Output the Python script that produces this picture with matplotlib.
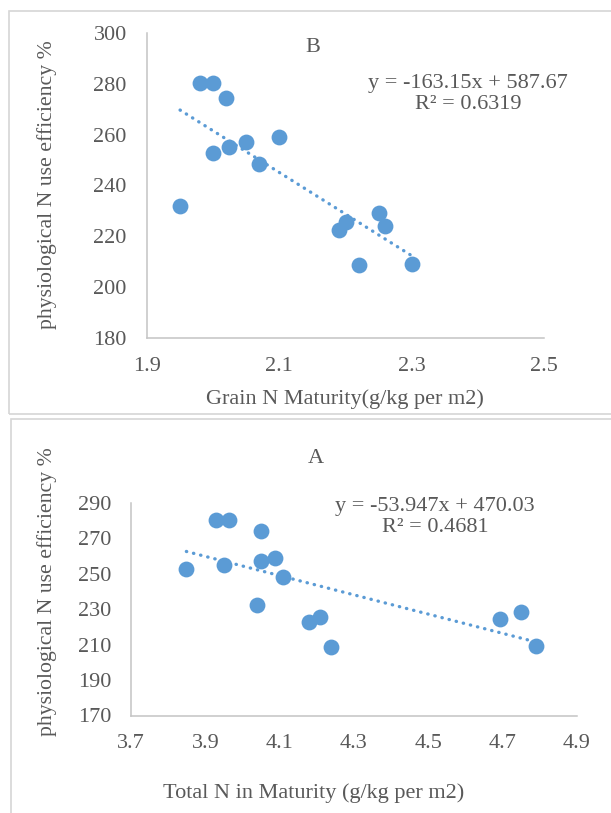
import numpy as np
import matplotlib
matplotlib.use("Agg")
import matplotlib.pyplot as plt
from matplotlib.patches import Rectangle

plt.rcParams['font.family'] = ['Liberation Serif', 'DejaVu Serif']

# panel B: grain N at maturity vs physiological NUE
grain_n = [1.950, 1.980, 1.999, 2.019, 1.999, 2.024, 2.050, 2.070, 2.100,
           2.190, 2.201, 2.220, 2.250, 2.260, 2.300]
nue_b = [232.1, 280.2, 280.2, 274.3, 252.9, 255.0, 257.0, 248.5, 259.1,
         222.5, 225.8, 208.7, 229.1, 224.2, 209.0]

# panel A: total N at maturity vs physiological NUE
total_n = [3.849, 3.930, 3.964, 3.949, 4.050, 4.050, 4.088, 4.109, 4.039,
           4.179, 4.209, 4.239, 4.694, 4.750, 4.790]
nue_a = [252.9, 280.2, 280.4, 255.2, 274.4, 257.3, 258.9, 248.4, 232.2,
         222.6, 225.8, 208.9, 224.3, 228.7, 209.2]

eq_b = "y = -163.15x + 587.67\nR² = 0.6319"
eq_a = "y = -53.947x + 470.03\nR² = 0.4681"

xticks_b = [1.9, 2.1, 2.3, 2.5]
yticks_b = [180, 200, 220, 240, 260, 280, 300]
xticks_a = [3.7, 3.9, 4.1, 4.3, 4.5, 4.7, 4.9]
yticks_a = [170, 190, 210, 230, 250, 270, 290]

W, H = 611, 813
blue = '#5b9bd5'
grey_txt = '#595959'
spine_c = '#c4c4c4'

fig = plt.figure(figsize=(W / 100, H / 100), dpi=100)

# panel frames
fig.add_artist(Rectangle((9 / W, 1 - 414 / H), 610 / W, 403 / H, transform=fig.transFigure,
                         fill=False, edgecolor='#d6d6d6', linewidth=1.2))
fig.add_artist(Rectangle((11 / W, -0.05), 610 / W, (813 - 419) / H + 0.05, transform=fig.transFigure,
                         fill=False, edgecolor='#d6d6d6', linewidth=1.2))


def make_axes(l, r, t, b):
    return fig.add_axes([l / W, 1 - b / H, (r - l) / W, (b - t) / H])


def draw(ax, x, y, xticks, yticks, eq, eq_pos, title, title_pos, xlabel, xlab_pos,
         ylab_pos, ypad, xpad):
    ax.scatter(x, y, s=130, color=blue, zorder=3, linewidths=0)
    k, c = np.polyfit(x, y, 1)
    xs = np.array([min(x), max(x)])
    ax.plot(xs, k * xs + c, color=blue, linewidth=2.4,
            linestyle=(0, (0.1, 2.1)), dash_capstyle='round', zorder=2)
    ax.set_xlim(xticks[0], xticks[-1])
    ax.set_ylim(yticks[0], yticks[-1])
    ax.set_xticks(xticks, [f"{v:.1f}" for v in xticks])
    ax.set_yticks(yticks, [str(v) for v in yticks])
    ax.tick_params(length=0, labelsize=16, colors=grey_txt)
    ax.tick_params(axis='y', pad=ypad)
    ax.tick_params(axis='x', pad=xpad)
    for s in ['top', 'right']:
        ax.spines[s].set_visible(False)
    for s in ['left', 'bottom']:
        ax.spines[s].set_color(spine_c)
        ax.spines[s].set_linewidth(1.1)
    ax.set_clip_on(False)

    fig.text(eq_pos[0] / W, 1 - eq_pos[1] / H, eq, ha='center', va='center',
             fontsize=16, color=grey_txt, linespacing=1.1)
    fig.text(title_pos[0] / W, 1 - title_pos[1] / H, title, ha='center', va='center',
             fontsize=16, color=grey_txt)
    fig.text(xlab_pos[0] / W, 1 - xlab_pos[1] / H, xlabel, ha='center', va='center',
             fontsize=16, color=grey_txt)
    fig.text(ylab_pos[0] / W, 1 - ylab_pos[1] / H, "physiological N use efficiency %",
             ha='center', va='center', rotation=90, fontsize=15.7, color=grey_txt)


ax_b = make_axes(147, 544, 33, 338)
draw(ax_b, grain_n, nue_b, xticks_b, yticks_b, eq_b, (468, 94), "B", (313, 48),
     "Grain N Maturity(g/kg per m2)", (345, 399), (47, 185), 14.5, 14)

ax_a = make_axes(131, 577, 503, 715.5)
draw(ax_a, total_n, nue_a, xticks_a, yticks_a, eq_a, (435, 517), "A", (316, 458),
     "Total N in Maturity (g/kg per m2)", (314, 793), (47, 592), 14, 13)

fig.savefig("out.png", dpi=100)
